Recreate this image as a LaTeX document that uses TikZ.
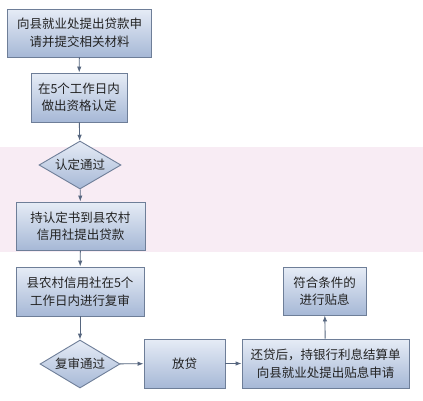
\documentclass[tikz,border=0pt]{standalone}
\usepackage{fontspec}
\setmainfont{Noto Sans CJK SC}
\usetikzlibrary{shapes.geometric,arrows.meta}
\definecolor{boxtop}{HTML}{E6ECF6}
\definecolor{boxbot}{HTML}{A6B8D6}
\definecolor{boxline}{HTML}{6E7E98}
\definecolor{arr}{HTML}{56667F}
\definecolor{band}{HTML}{F8ECF4}
\definecolor{txt}{HTML}{222222}
\tikzset{
  flowbox/.style={draw=boxline, line width=0.9pt, top color=boxtop, bottom color=boxbot,
    inner sep=0pt, align=center, font=\fontsize{12.5}{17.5}\selectfont, text=txt},
  flowdia/.style={shape=diamond, shape aspect=2, draw=boxline, line width=0.9pt,
    top color=boxtop, bottom color=boxbot, inner sep=0pt,
    font=\fontsize{12.5}{17.5}\selectfont, text=txt},
  flowarr/.style={draw=arr, line width=0.9pt, -{Latex[length=6pt,width=4.5pt]}}
}
\begin{document}
\begin{tikzpicture}[x=1pt,y=-1pt]
\useasboundingbox (0,0) rectangle (423,400);
\fill[white] (0,0) rectangle (423,400);
\fill[band] (0,147) rectangle (423,252);
\node[flowbox, minimum width=144pt, minimum height=48pt] (b1) at (79.5,33) {向县就业处提出贷款申\\请并提交相关材料};
\node[flowbox, minimum width=96pt, minimum height=49pt] (b2) at (79,97.5) {在5个工作日内\\做出资格认定};
\node[flowdia, minimum width=82pt, minimum height=48pt] (d1) at (80,165) {认定通过};
\node[flowbox, minimum width=129pt, minimum height=48pt] (b3) at (80.5,226) {持认定书到县农村\\信用社提出贷款};
\node[flowbox, minimum width=128pt, minimum height=49pt] (b4) at (80,291.5) {县农村信用社在5个\\工作日内进行复审};
\node[flowdia, minimum width=80pt, minimum height=48pt] (d2) at (80,364) {复审通过};
\node[flowbox, minimum width=81pt, minimum height=49pt] (b5) at (184.5,363.5) {放贷};
\node[flowbox, minimum width=167pt, minimum height=49pt] (b6) at (325.5,363.5) {还贷后，持银行利息结算单\\向县就业处提出贴息申请};
\node[flowbox, minimum width=83pt, minimum height=48pt] (b7) at (324.5,291) {符合条件的\\进行贴息};
\draw[flowarr] (b1) -- (b2);
\draw[flowarr] (b2) -- (d1);
\draw[flowarr] (d1) -- (b3);
\draw[flowarr] (b3) -- (b4);
\draw[flowarr] (b4) -- (d2);
\draw[flowarr] (d2) -- (b5);
\draw[flowarr] (b5) -- (b6);
\draw[flowarr] (b6) -- (b7);
\end{tikzpicture}
\end{document}
